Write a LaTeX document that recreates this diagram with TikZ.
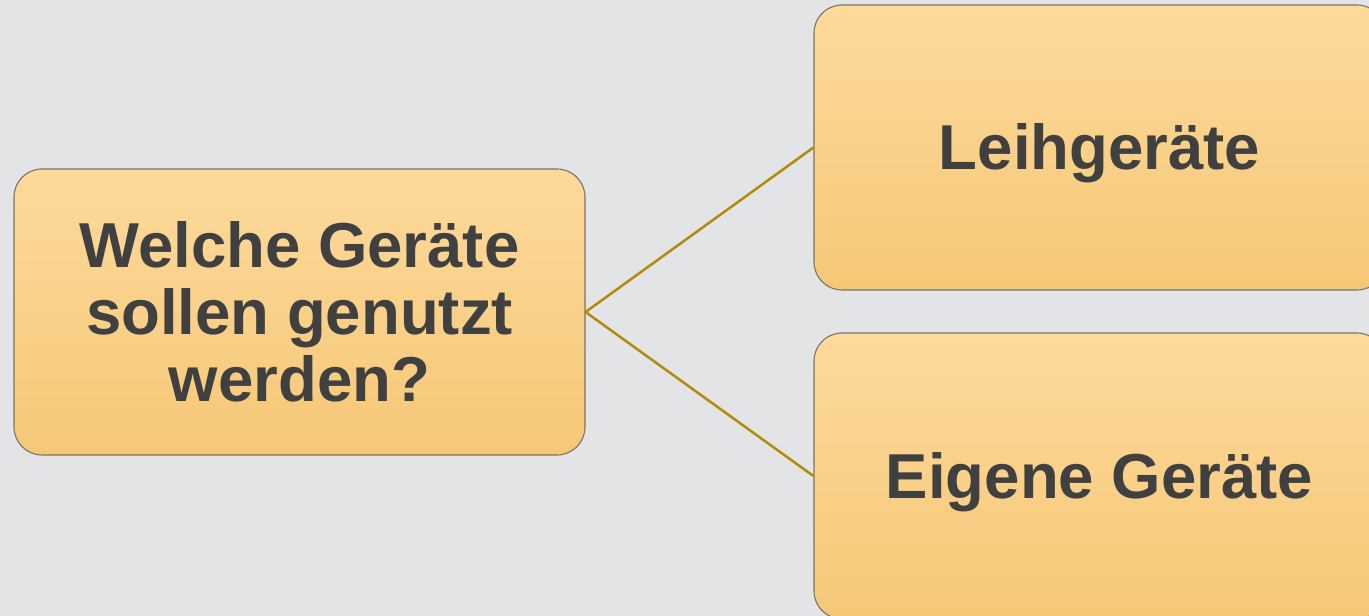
\documentclass[tikz,border=0pt]{standalone}
\usepackage{fontspec}
\setmainfont{Liberation Sans}
\definecolor{bgc}{HTML}{E3E4E6}
\definecolor{boxtop}{HTML}{FDD99B}
\definecolor{boxbot}{HTML}{F5C877}
\definecolor{edgec}{HTML}{7A7368}
\definecolor{linkc}{HTML}{B38A0C}
\definecolor{txt}{HTML}{404040}
\newcommand{\lowertext}[1]{\raisebox{0pt}[\dimexpr\height+12pt\relax][\depth]{#1}}
\tikzset{
  gbox/.style={draw=edgec, line width=1.1pt, rounded corners=28pt, top color=boxtop, bottom color=boxbot,
    minimum width=571pt, inner sep=0pt, align=center, text=txt,
    font=\fontsize{63.5}{67}\selectfont\bfseries},
  link/.style={draw=linkc, line width=2.5pt}
}
\begin{document}
\begin{tikzpicture}[x=1pt,y=-1pt]
\useasboundingbox (0,0) rectangle (1369,616);
\fill[bgc] (0,0) rectangle (1369,616);
\clip (0,0) rectangle (1369,616);
\node[gbox, minimum height=286pt] (q) at (299.5,312) {Welche Geräte\\sollen genutzt\\werden?};
\node[gbox, minimum height=285pt] (a) at (1099.5,147.5) {\lowertext{Leihgeräte}};
\node[gbox, minimum height=286pt] (b) at (1099.5,476) {\lowertext{Eigene Geräte}};
\draw[link] (q.east) -- (a.west);
\draw[link] (q.east) -- (b.west);
\end{tikzpicture}
\end{document}
